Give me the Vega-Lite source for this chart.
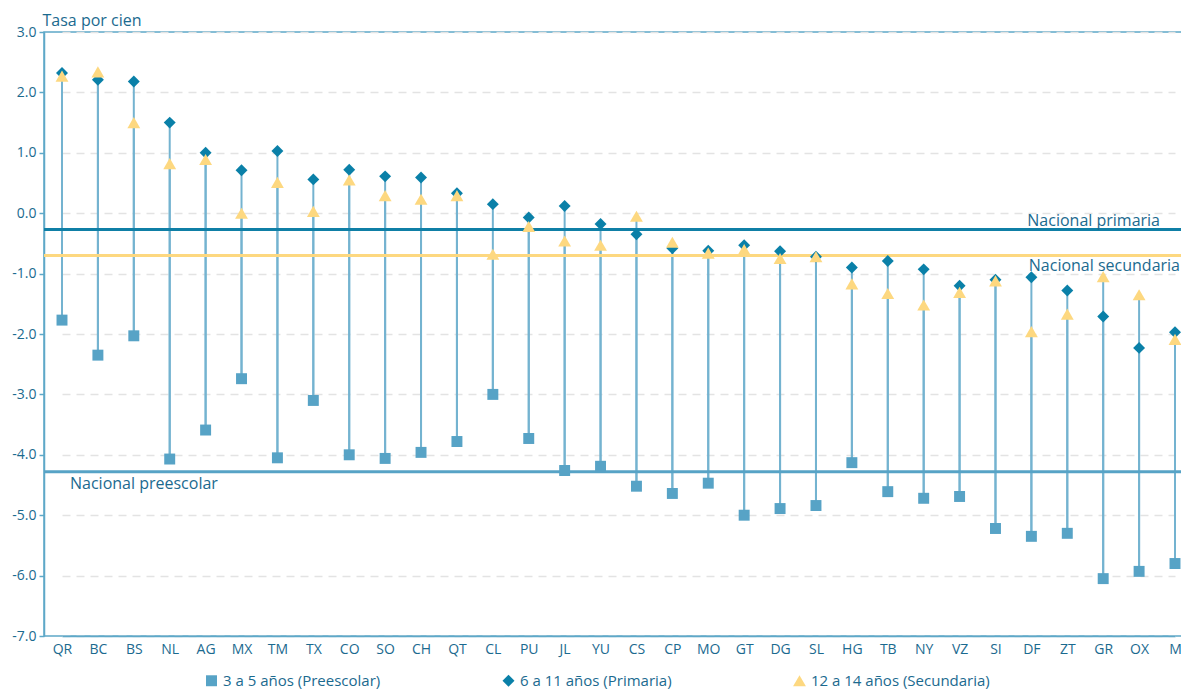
{
  "$schema": "https://vega.github.io/schema/vega-lite/v6.json",
  "width": 1139,
  "height": 604,
  "autosize": "none",
  "padding": {"left": 44, "top": 32, "right": 0, "bottom": 54},
  "background": "white",
  "config": {
    "font": "Open Sans",
    "view": {"stroke": "#5ea8c8", "strokeWidth": 1.5},
    "axis": {"labelFont": "Open Sans", "titleFont": "Open Sans"}
  },
  "data": {
    "values": [
      {"st": "QR", "pre": -1.77, "pri": 2.32, "sec": 2.27},
      {"st": "BC", "pre": -2.35, "pri": 2.21, "sec": 2.34},
      {"st": "BS", "pre": -2.03, "pri": 2.18, "sec": 1.50},
      {"st": "NL", "pre": -4.07, "pri": 1.50, "sec": 0.82},
      {"st": "AG", "pre": -3.59, "pri": 1.00, "sec": 0.89},
      {"st": "MX", "pre": -2.74, "pri": 0.71, "sec": 0.00},
      {"st": "TM", "pre": -4.05, "pri": 1.03, "sec": 0.51},
      {"st": "TX", "pre": -3.10, "pri": 0.56, "sec": 0.03},
      {"st": "CO", "pre": -4.00, "pri": 0.72, "sec": 0.55},
      {"st": "SO", "pre": -4.06, "pri": 0.61, "sec": 0.29},
      {"st": "CH", "pre": -3.96, "pri": 0.59, "sec": 0.23},
      {"st": "QT", "pre": -3.78, "pri": 0.33, "sec": 0.29},
      {"st": "CL", "pre": -3.00, "pri": 0.15, "sec": -0.68},
      {"st": "PU", "pre": -3.73, "pri": -0.07, "sec": -0.22},
      {"st": "JL", "pre": -4.26, "pri": 0.12, "sec": -0.46},
      {"st": "YU", "pre": -4.19, "pri": -0.18, "sec": -0.53},
      {"st": "CS", "pre": -4.52, "pri": -0.35, "sec": -0.05},
      {"st": "CP", "pre": -4.64, "pri": -0.58, "sec": -0.48},
      {"st": "MO", "pre": -4.47, "pri": -0.62, "sec": -0.66},
      {"st": "GT", "pre": -5.00, "pri": -0.53, "sec": -0.60},
      {"st": "DG", "pre": -4.89, "pri": -0.63, "sec": -0.75},
      {"st": "SL", "pre": -4.84, "pri": -0.72, "sec": -0.72},
      {"st": "HG", "pre": -4.13, "pri": -0.90, "sec": -1.17},
      {"st": "TB", "pre": -4.61, "pri": -0.79, "sec": -1.33},
      {"st": "NY", "pre": -4.72, "pri": -0.93, "sec": -1.52},
      {"st": "VZ", "pre": -4.69, "pri": -1.20, "sec": -1.31},
      {"st": "SI", "pre": -5.22, "pri": -1.10, "sec": -1.12},
      {"st": "DF", "pre": -5.35, "pri": -1.06, "sec": -1.96},
      {"st": "ZT", "pre": -5.30, "pri": -1.28, "sec": -1.67},
      {"st": "GR", "pre": -6.05, "pri": -1.71, "sec": -1.05},
      {"st": "OX", "pre": -5.93, "pri": -2.23, "sec": -1.35},
      {"st": "M", "pre": -5.80, "pri": -1.97, "sec": -2.09}
    ]
  },
  "encoding": {
    "x": {
      "field": "st",
      "type": "nominal",
      "sort": null,
      "scale": {"type": "point", "range": [18, 1131], "padding": 0},
      "axis": {
        "title": null,
        "labelAngle": 0,
        "labelFontSize": 14,
        "labelColor": "#1b6a8f",
        "labelPadding": 6,
        "ticks": false,
        "domainColor": "#5ea8c8",
        "domainWidth": 1.5,
        "grid": false
      }
    }
  },
  "layer": [
    {
      "mark": {"type": "rule", "color": "#74b3d0", "strokeWidth": 2},
      "encoding": {
        "y": {
          "field": "pri",
          "type": "quantitative",
          "scale": {"domain": [-7, 3], "nice": false, "zero": false},
          "axis": {
            "title": "Tasa por cien",
            "titleAngle": 0,
            "titleAlign": "left",
            "titleBaseline": "alphabetic",
            "titleX": -2,
            "titleY": -7,
            "titleFontSize": 16,
            "titleFontWeight": "normal",
            "titleColor": "#1b6a8f",
            "values": [3, 2, 1, 0, -1, -2, -3, -4, -5, -6, -7],
            "labelExpr": "replace(format(datum.value, '.1f'), '\u2212', '-')",
            "labelFontSize": 14,
            "labelColor": "#1b6a8f",
            "labelPadding": 3,
            "tickColor": "#5ea8c8",
            "tickSize": 5,
            "tickWidth": 1.5,
            "domainColor": "#5ea8c8",
            "domainWidth": 1.5,
            "grid": true,
            "gridColor": "#e3e3e3",
            "gridDash": [8, 6],
            "gridWidth": 1.5
          }
        },
        "y2": {"field": "pre"}
      }
    },
    {
      "mark": {"type": "rule", "color": "#74b3d0", "strokeWidth": 2},
      "encoding": {
        "y": {"field": "sec", "type": "quantitative"},
        "y2": {"field": "pre"}
      }
    },
    {
      "data": {"values": [{"nivel": "primaria", "v": -0.27}]},
      "mark": {"type": "rule", "strokeWidth": 3, "color": "#0f7fa6"},
      "encoding": {"x": null, "y": {"field": "v", "type": "quantitative"}}
    },
    {
      "data": {"values": [{"nivel": "secundaria", "v": -0.70}]},
      "mark": {"type": "rule", "strokeWidth": 3, "color": "#fdd880"},
      "encoding": {"x": null, "y": {"field": "v", "type": "quantitative"}}
    },
    {
      "data": {"values": [{"nivel": "preescolar", "v": -4.28}]},
      "mark": {"type": "rule", "strokeWidth": 3, "color": "#57a3c6"},
      "encoding": {"x": null, "y": {"field": "v", "type": "quantitative"}}
    },
    {
      "transform": [{"fold": ["pre", "pri", "sec"], "as": ["serie", "valor"]}],
      "mark": {"type": "point", "filled": true, "opacity": 1, "strokeWidth": 0},
      "encoding": {
        "y": {"field": "valor", "type": "quantitative"},
        "shape": {
          "field": "serie",
          "type": "nominal",
          "scale": {"domain": ["pre", "pri", "sec"], "range": ["square", "diamond", "triangle-up"]},
          "legend": {
            "title": null,
            "orient": "none",
            "direction": "horizontal",
            "legendX": 160,
            "legendY": 641,
            "columnPadding": 120,
            "labelFontSize": 15,
            "labelLimit": 400,
            "labelColor": "#1b6a8f",
            "labelFont": "Open Sans",
            "symbolSize": 140,
            "symbolStrokeWidth": 0,
            "symbolOpacity": 1,
            "labelExpr": "datum.label == 'pre' ? '3 a 5 años (Preescolar)' : datum.label == 'pri' ? '6 a 11 años (Primaria)' : '12 a 14 años (Secundaria)'"
          }
        },
        "color": {
          "field": "serie",
          "type": "nominal",
          "scale": {"domain": ["pre", "pri", "sec"], "range": ["#57a3c6", "#0a80a8", "#fdd880"]},
          "legend": {
            "title": null,
            "orient": "none",
            "direction": "horizontal",
            "legendX": 160,
            "legendY": 641,
            "columnPadding": 120,
            "labelFontSize": 15,
            "labelLimit": 400,
            "labelColor": "#1b6a8f",
            "labelFont": "Open Sans",
            "symbolSize": 140,
            "symbolStrokeWidth": 0,
            "symbolOpacity": 1,
            "labelExpr": "datum.label == 'pre' ? '3 a 5 años (Preescolar)' : datum.label == 'pri' ? '6 a 11 años (Primaria)' : '12 a 14 años (Secundaria)'"
          }
        },
        "size": {
          "field": "serie",
          "type": "nominal",
          "scale": {"domain": ["pre", "pri", "sec"], "range": [120, 165, 230]},
          "legend": null
        }
      }
    },
    {
      "data": {"values": [
        {"t": "Nacional primaria", "x": "M", "v": -0.27}
      ]},
      "mark": {"type": "text", "align": "right", "baseline": "alphabetic", "dx": -15, "dy": -4, "fontSize": 16, "color": "#1b6a8f"},
      "encoding": {
        "x": {"field": "x", "type": "nominal"},
        "y": {"field": "v", "type": "quantitative"},
        "text": {"field": "t"}
      }
    },
    {
      "data": {"values": [
        {"t": "Nacional secundaria", "x": "M", "v": -0.70}
      ]},
      "mark": {"type": "text", "align": "right", "baseline": "top", "dx": 5, "dy": 3, "fontSize": 16, "color": "#1b6a8f"},
      "encoding": {
        "x": {"field": "x", "type": "nominal"},
        "y": {"field": "v", "type": "quantitative"},
        "text": {"field": "t"}
      }
    },
    {
      "data": {"values": [
        {"t": "Nacional preescolar", "x": "QR", "v": -4.28}
      ]},
      "mark": {"type": "text", "align": "left", "baseline": "top", "dx": 8, "dy": 4, "fontSize": 16, "color": "#1b6a8f"},
      "encoding": {
        "x": {"field": "x", "type": "nominal"},
        "y": {"field": "v", "type": "quantitative"},
        "text": {"field": "t"}
      }
    }
  ]
}
